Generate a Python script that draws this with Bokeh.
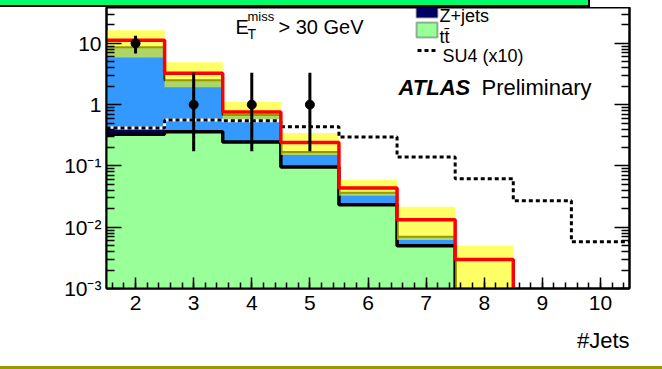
import numpy as np
from bokeh.plotting import figure
from bokeh.models import (Range1d, FixedTicker, LogAxis, Label, BoxAnnotation, Arrow,
                          Title, Div)
from bokeh.layouts import column
from bokeh.embed import file_html
from bokeh.resources import INLINE

# ---------------- data ----------------
jets = [2, 3, 4, 5, 6, 7, 8, 9, 10]
ttbar = [0.33, 0.36, 0.245, 0.096, 0.0232, 0.005, 0, 0, 0]
zjets = [0.07, 0.01, 0.004, 0.002, 0.0005, 0.0002, 0, 0, 0]
wjets = [8.2, 2.13, 0.426, 0.071, 0.0127, 0.0018, 0, 0, 0]
sm_total = [11.2, 3.25, 0.755, 0.24, 0.0438, 0.0132, 0.00296, 0, 0]
sm_up = [16.3, 4.9, 1.1, 0.345, 0.059, 0.0215, 0.005, 0, 0]
sm_down = [5.9, 1.93, 0.56, 0.151, 0.0325, 0.0062, 0.0004, 0, 0]
su4_x10 = [0.415, 0.56, 0.545, 0.437, 0.296, 0.14, 0.0615, 0.027, 0.0058]

data_jets = [2, 3, 4, 5]
data = [10, 1, 1, 1]
data_low = [6.84, 0.173, 0.173, 0.173]
data_high = [13.3, 3.30, 3.30, 3.30]

y_ticks = [0.001, 0.01, 0.1, 1, 10]
y_tick_labels = ["10\u207b\u00b3", "10\u207b\u00b2", "10\u207b\u00b9", "1", "10"]
x_ticks = [2, 3, 4, 5, 6, 7, 8, 9, 10]

FLOOR = 1e-6
FONT = "Liberation Sans"

# page geometry: green bar 0-7, figure 7-366, olive bar 366-369
TOP = 7
FL, FB = 106, 289  # frame left / bottom in page pixels

# ---------------- figure ----------------
p = figure(width=662, height=366 - TOP, x_range=Range1d(1.5, 10.5),
           y_range=Range1d(1e-3, 10 ** 1.585), y_axis_type="log",
           output_backend="svg", toolbar_location=None,
           min_border=0, min_border_left=FL, min_border_right=33,
           min_border_top=0, min_border_bottom=366 - FB)
p.xgrid.visible = False
p.ygrid.visible = False
p.outline_line_color = "black"
p.outline_line_width = 2
p.background_fill_color = "white"
p.border_fill_color = "white"

minor_y = [m * 10.0 ** e for e in range(-3, 2) for m in range(2, 10)]
yticker = FixedTicker(ticks=y_ticks, minor_ticks=minor_y)
minor_x = [round(v, 2) for v in np.arange(1.6, 10.5, 0.2)]
xticker = FixedTicker(ticks=x_ticks, minor_ticks=minor_x)


def style_y(ax):
    ax.ticker = yticker
    ax.major_label_overrides = dict(zip(y_ticks, y_tick_labels))
    ax.major_tick_in = 15
    ax.major_tick_out = 0
    ax.minor_tick_in = 8
    ax.minor_tick_out = 0
    ax.axis_line_width = 2
    ax.major_tick_line_width = 1.5
    ax.minor_tick_line_width = 1.5
    ax.major_label_text_font = FONT
    ax.major_label_text_font_size = "21px"
    ax.major_label_text_color = "black"
    ax.major_label_standoff = 5


for ax in p.yaxis:
    style_y(ax)

rax = LogAxis()
style_y(rax)
rax.major_label_text_font_size = "0px"
rax.major_label_text_alpha = 0
p.add_layout(rax, "right")

for ax in p.xaxis:
    ax.ticker = xticker
    ax.major_tick_in = 11
    ax.major_tick_out = 0
    ax.minor_tick_in = 6
    ax.minor_tick_out = 0
    ax.axis_line_width = 2
    ax.major_tick_line_width = 1.5
    ax.minor_tick_line_width = 1.5
    ax.major_label_text_font = FONT
    ax.major_label_text_font_size = "21px"
    ax.major_label_text_color = "black"
    ax.major_label_standoff = 7

p.add_layout(Title(text="#Jets", align="right", text_font=FONT, text_font_size="22px",
                   text_font_style="normal", text_color="black", standoff=27), "below")

# ---------------- stacked histograms ----------------
n = len(jets)
t_top = [ttbar[i] for i in range(n)]
z_top = [ttbar[i] + zjets[i] for i in range(n)]
w_top = [z_top[i] + wjets[i] for i in range(n)]

idx = [i for i in range(n) if ttbar[i] > 0]
L = [jets[i] - 0.5 for i in idx]
R = [jets[i] + 0.5 for i in idx]
p.quad(left=L, right=R, bottom=[FLOOR] * len(idx), top=[t_top[i] for i in idx],
       fill_color="#99ff99", line_color="#99ff99", line_width=1)
p.quad(left=L, right=R, bottom=[t_top[i] for i in idx], top=[z_top[i] for i in idx],
       fill_color="#000066", line_color="#000066", line_width=1)
p.quad(left=L, right=R, bottom=[z_top[i] for i in idx], top=[w_top[i] for i in idx],
       fill_color="#3399ff", line_color="#3399ff", line_width=1)


def step_xy(vals, count, drop=True):
    xs, ys = [], []
    for i in range(count):
        xs += [jets[i] - 0.5, jets[i] + 0.5]
        ys += [vals[i], vals[i]]
    if drop:
        xs.append(jets[count - 1] + 0.5)
        ys.append(FLOOR)
    return xs, ys


nstack = len(idx)
xs, ys = step_xy(w_top, nstack, drop=False)
p.line(xs, ys, line_color="black", line_width=2)
xs, ys = step_xy(ttbar, nstack)
p.line(xs, ys, line_color="black", line_width=3.5)

# uncertainty band
bidx = [i for i in range(n) if sm_up[i] > 0]
p.quad(left=[jets[i] - 0.5 for i in bidx], right=[jets[i] + 0.5 for i in bidx],
       bottom=[sm_down[i] for i in bidx], top=[sm_up[i] for i in bidx],
       fill_color="#ffff00", fill_alpha=0.6, line_color=None)

# SU4 x10
xs, ys = step_xy(su4_x10, n, drop=False)
p.line(xs, ys, line_color="white", line_width=3)
p.line(xs, ys, line_color="black", line_width=3, line_dash="4 3")

# SM total
nt = len([v for v in sm_total if v > 0])
xs, ys = step_xy(sm_total, nt)
p.line(xs, ys, line_color="#ff0000", line_width=3.5)

# data
p.segment(x0=data_jets, x1=data_jets, y0=data_low, y1=data_high,
          line_color="black", line_width=3)
p.scatter(data_jets, data, size=9, color="black")

# ---------------- annotations (screen coords relative to frame) ----------------


def lab(text, cx, cy, size, style="normal", align="left"):
    p.add_layout(Label(x=cx - FL, y=FB - cy, x_units="screen", y_units="screen",
                       text=text, text_font=FONT, text_font_size=size,
                       text_font_style=style, text_align=align,
                       text_baseline="alphabetic", text_color="black"))


lab("E", 235, 27, "20px")
lab("miss", 247, 17, "13px")
lab("T", 247, 34, "14px")
lab("> 30 GeV", 278, 27, "20px")

lab("Z+jets", 439, 16, "18px")
lab("tt\u0304", 439, 37, "18px")
lab("SU4 (x10)", 442, 56, "18px")
lab("ATLAS", 398, 88, "22px", style="bold italic")
lab("Preliminary", 481, 88, "22px")

# legend boxes
p.add_layout(BoxAnnotation(left=416 - FL, right=437 - FL, bottom=FB - 18, top=FB + 10,
                           left_units="screen", right_units="screen",
                           bottom_units="screen", top_units="screen",
                           fill_color="#000066", fill_alpha=1,
                           line_color="black", line_width=2))
p.add_layout(BoxAnnotation(left=416 - FL, right=437 - FL, bottom=FB - 38, top=FB - 23,
                           left_units="screen", right_units="screen",
                           bottom_units="screen", top_units="screen",
                           fill_color="#99ff99", fill_alpha=1,
                           line_color="black", line_width=2))
p.add_layout(Arrow(x_start=417 - FL, y_start=FB - 51, x_end=435 - FL, y_end=FB - 51,
                   start_units="screen", end_units="screen", start=None, end=None,
                   line_color="black", line_width=3, line_dash="4 3"))

# green bar at top and olive bar at bottom
green_bar = Div(text="", width=590, height=TOP, margin=0,
                styles={"background-color": "#00ff66",
                        "border-bottom": "2px solid black",
                        "border-right": "2px solid black",
                        "box-sizing": "border-box"})
olive_bar = Div(text="", width=662, height=3, margin=0,
                styles={"background-color": "#999900"})

layout = column(green_bar, p, olive_bar, spacing=0)

open("out.html", "w").write(file_html(layout, INLINE))
